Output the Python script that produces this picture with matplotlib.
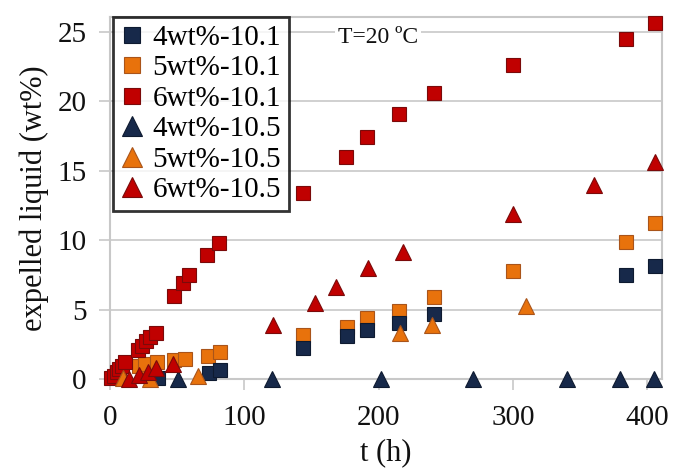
import matplotlib
matplotlib.use("Agg")
import matplotlib.pyplot as plt

plt.rcParams['font.family'] = ['Liberation Serif', 'DejaVu Serif']

# ---- data ----
t_4_101 = [36, 74, 82, 144, 176.5, 191.6, 215.5, 241.5, 384, 405.7]
y_4_101 = [0.05, 0.4, 0.65, 2.2, 3.1, 3.5, 4.0, 4.7, 7.5, 8.1]

t_5_101 = [5, 21.7, 26, 35, 48, 56, 73, 82, 144, 176.5, 191.6, 215.5, 241.5, 300, 384, 405.7]
y_5_101 = [0.3, 0.9, 1.08, 1.2, 1.4, 1.45, 1.65, 1.96, 3.16, 3.76, 4.37, 4.9, 5.88, 7.8, 9.88, 11.25]

t_6_101 = [1, 3, 5, 7, 9, 11, 21, 24, 27, 30, 34, 47.6, 54.3, 58.7, 72.3, 81.5,
           144, 175.5, 191, 215.5, 241.5, 300, 384.5, 406]
y_6_101 = [0.05, 0.25, 0.5, 0.7, 0.95, 1.2, 2.1, 2.35, 2.7, 3.0, 3.3, 6.0, 6.9, 7.5, 8.9, 9.8,
           13.4, 16.0, 17.4, 19.1, 20.6, 22.6, 24.5, 25.6]

t_4_105 = [50.6, 120.5, 202, 270.6, 340, 380, 405]
y_4_105 = [0, 0, 0, 0, 0, 0, 0]

t_5_105 = [10, 30, 65.5, 216, 240, 310]
y_5_105 = [0.1, 0.0, 0.2, 3.3, 3.9, 5.25]

t_6_105 = [14, 21.7, 28, 34, 47, 121, 152.6, 168.6, 192, 218, 300, 360, 405.7]
y_6_105 = [0.0, 0.3, 0.5, 0.77, 1.1, 3.9, 5.45, 6.6, 7.96, 9.16, 11.9, 13.96, 15.6]

labels = ['4wt%-10.1', '5wt%-10.1', '6wt%-10.1', '4wt%-10.5', '5wt%-10.5', '6wt%-10.5']
x_ticks = [0, 100, 200, 300, 400]
y_ticks = [0, 5, 10, 15, 20, 25]

navy = '#17294A'
orange = '#E8720C'
red = '#C00000'
navy_e = '#0E1A30'
orange_e = '#A9541A'
red_e = '#7A0A0A'

fig = plt.figure(figsize=(6.75, 4.68), dpi=100)
ax = fig.add_axes([110/675, 89/468, 552/675, 362/468])

sq = 10
tr = 11.5
kw = dict(linestyle='none', clip_on=False)
ax.plot(t_4_101, y_4_101, marker='s', ms=sq, mfc=navy, mec=navy_e, mew=0.8, label=labels[0], zorder=4, **kw)
ax.plot(t_5_101, y_5_101, marker='s', ms=sq, mfc=orange, mec=orange_e, mew=0.8, label=labels[1], zorder=3, **kw)
ax.plot(t_6_101, y_6_101, marker='s', ms=sq, mfc=red, mec=red_e, mew=0.8, label=labels[2], zorder=3, **kw)
ax.plot(t_4_105, y_4_105, marker='^', ms=tr, mfc=navy, mec=navy_e, mew=0.8, label=labels[3], zorder=5, **kw)
ax.plot(t_5_105, y_5_105, marker='^', ms=tr, mfc=orange, mec=orange_e, mew=0.8, label=labels[4], zorder=5, **kw)
ax.plot(t_6_105, y_6_105, marker='^', ms=tr, mfc=red, mec=red_e, mew=0.8, label=labels[5], zorder=5, **kw)

ax.set_xlim(0, 411)
ax.set_ylim(0, 26.05)
ax.set_xticks(x_ticks)
ax.set_yticks(y_ticks)
ax.set_xticklabels([str(v) for v in x_ticks])
ax.set_yticklabels([str(v) for v in y_ticks])

grid_c = '#C8C8C8'
ax.yaxis.grid(True, color=grid_c, linewidth=1.2)
ax.set_axisbelow(True)
for s in ax.spines.values():
    s.set_color(grid_c)
    s.set_linewidth(1.5)

ax.tick_params(axis='both', direction='out', color=grid_c, width=1.2, length=8,
               labelsize=21, labelcolor='#111111')
ax.tick_params(axis='x', pad=11)
ax.tick_params(axis='y', pad=9)

ax.set_xlabel('t (h)', fontsize=22, labelpad=5, color='#111111')
ax.set_ylabel('expelled liquid (wt%)', fontsize=22, labelpad=6, color='#111111')

ax.text(0.486, 0.943, 'T=20 ºC', transform=ax.transAxes, fontsize=17,
        ha='center', va='center', color='#111111',
        bbox=dict(facecolor='white', edgecolor='none', pad=2))

leg = ax.legend(loc='upper left', bbox_to_anchor=(0.006, 1.0), borderaxespad=0,
                fontsize=21, frameon=True, fancybox=False, labelspacing=0.14,
                handlelength=0.8, handletextpad=0.3, borderpad=0.25,
                markerscale=1.2)
leg.get_frame().set_edgecolor('black')
leg.get_frame().set_linewidth(2)
leg.set_zorder(10)

fig.savefig('out.png', dpi=100)
